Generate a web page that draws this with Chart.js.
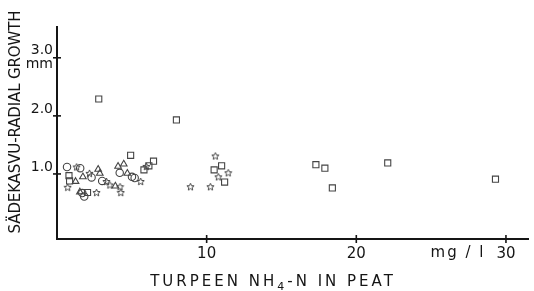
<!DOCTYPE html>
<html>
<head>
<meta charset="utf-8">
<script src="https://cdn.jsdelivr.net/npm/chart.js@4/dist/chart.umd.min.js"></script>
<style>
  body { margin: 0; background: #fff; }
  canvas { display: block; }
</style>
</head>
<body>
<canvas id="growthChart" width="534" height="291"></canvas>
<script>
// data: [NH4-N mg/l, radial growth mm]
var squares = [[2.79, 2.29], [7.98, 1.93], [17.3, 1.16], [17.9, 1.10], [18.4, 0.76],
  [22.1, 1.19], [29.3, 0.91], [11.0, 1.14], [10.5, 1.07], [11.2, 0.86],
  [0.8, 0.97], [0.84, 0.88], [2.04, 0.68], [4.92, 1.32], [5.81, 1.07],
  [6.14, 1.14], [6.45, 1.22]];
var circles = [[0.67, 1.12], [1.55, 1.10], [2.31, 0.94], [3.02, 0.88], [1.82, 0.61],
  [1.69, 0.67], [4.19, 1.02], [5.01, 0.95], [5.19, 0.93]];
var triangles = [[1.24, 0.87], [1.73, 0.95], [2.75, 1.08], [2.86, 1.01], [1.53, 0.69],
  [3.9, 0.79], [4.08, 1.13], [4.46, 1.17], [4.7, 1.01]];
var stars = [[0.71, 0.77], [1.31, 1.12], [2.17, 1.01], [3.3, 0.87], [2.64, 0.68],
  [3.53, 0.81], [4.21, 0.78], [4.26, 0.68], [5.59, 0.87], [5.97, 1.13],
  [10.58, 1.31], [11.44, 1.02], [10.78, 0.95], [8.92, 0.78], [10.25, 0.78]];

var xTicks = [10, 20, 30];
var yTicks = [1, 2, 3];
var yTitle = 'SÄDEKASVU-RADIAL GROWTH';
var xTitleParts = ['TURPEEN NH', '4', '-N IN PEAT'];
var xUnit = 'mg / l';

var ink = '#151515';
var markColor = '#444';
var font = 'DejaVu Sans';

function toPoints(arr) {
  return arr.map(function(p) { return { x: p[0], y: p[1] }; });
}

// small outlined five point star used as point style
function makeStar() {
  var c = document.createElement('canvas');
  c.width = 9; c.height = 9;
  var g = c.getContext('2d');
  g.strokeStyle = markColor;
  g.lineWidth = 1;
  g.beginPath();
  for (var i = 0; i < 10; i++) {
    var r = i % 2 === 0 ? 3.8 : 1.7;
    var a = -Math.PI / 2 + i * Math.PI / 5;
    var px = 4.5 + r * Math.cos(a), py = 4.8 + r * Math.sin(a);
    if (i === 0) g.moveTo(px, py); else g.lineTo(px, py);
  }
  g.closePath();
  g.stroke();
  return c;
}

// letter spacing that makes text fill a given width
function fitText(ctx, text, width) {
  ctx.letterSpacing = '0px';
  var w = ctx.measureText(text).width;
  return (width - w) / Math.max(1, text.length - 1);
}

var axisDecor = {
  id: 'axisDecor',
  afterDraw: function(chart) {
    var ctx = chart.ctx;
    var xs = chart.scales.x, ys = chart.scales.y;
    var area = chart.chartArea;
    ctx.save();
    ctx.strokeStyle = ink;
    ctx.lineWidth = 1.6;
    // tick marks crossing the axes
    yTicks.forEach(function(v) {
      var py = ys.getPixelForValue(v);
      ctx.beginPath(); ctx.moveTo(area.left - 4, py); ctx.lineTo(area.left + 4, py); ctx.stroke();
    });
    xTicks.forEach(function(v) {
      var px = xs.getPixelForValue(v);
      ctx.beginPath(); ctx.moveTo(px, area.bottom - 4); ctx.lineTo(px, area.bottom + 4); ctx.stroke();
    });

    ctx.fillStyle = ink;
    // unit next to the last x tick
    ctx.font = '15px "' + font + '"';
    ctx.textAlign = 'center';
    ctx.textBaseline = 'middle';
    ctx.letterSpacing = '2px';
    ctx.fillText(xUnit, xs.getPixelForValue(26.8), 253);

    // y title, rotated
    ctx.save();
    ctx.translate(16, 122);
    ctx.rotate(-Math.PI / 2);
    ctx.font = '15px "' + font + '"';
    ctx.letterSpacing = fitText(ctx, yTitle, 223) + 'px';
    ctx.textAlign = 'center';
    ctx.fillText(yTitle, 0, 0);
    ctx.restore();

    // x title with subscript
    ctx.textAlign = 'left';
    ctx.font = '15px "' + font + '"';
    ctx.letterSpacing = '3px';
    var w0 = ctx.measureText(xTitleParts[0]).width;
    var w2 = ctx.measureText(xTitleParts[2]).width;
    ctx.font = '11px "' + font + '"';
    var w1 = ctx.measureText(xTitleParts[1]).width;
    var sx = 273 - (w0 + w1 + w2) / 2;
    ctx.font = '15px "' + font + '"';
    ctx.fillText(xTitleParts[0], sx, 282);
    ctx.font = '11px "' + font + '"';
    ctx.fillText(xTitleParts[1], sx + w0, 287);
    ctx.font = '15px "' + font + '"';
    ctx.fillText(xTitleParts[2], sx + w0 + w1, 282);
    ctx.restore();
  }
};

var ds = function(label, data, style, radius) {
  return {
    label: label,
    data: toPoints(data),
    pointStyle: style,
    pointRadius: radius,
    pointHoverRadius: radius,
    borderColor: markColor,
    backgroundColor: 'rgba(255,255,255,0)',
    borderWidth: 1.1
  };
};

var ctx = document.getElementById('growthChart').getContext('2d');
var chart = new Chart(ctx, {
  type: 'scatter',
  data: {
    datasets: [
      ds('squares', squares, 'rect', 4.3),
      ds('circles', circles, 'circle', 3.7),
      ds('triangles', triangles, 'triangle', 3.8),
      ds('stars', stars, makeStar(), 4.5)
    ]
  },
  options: {
    responsive: false,
    animation: false,
    layout: { padding: { top: 27, right: 3, left: 0, bottom: 0 } },
    plugins: { legend: { display: false }, tooltip: { enabled: false } },
    scales: {
      x: {
        type: 'linear',
        min: 0,
        max: 31.5,
        grid: { display: false, drawTicks: false, tickLength: 0 },
        border: { display: true, color: ink, width: 2 },
        afterBuildTicks: function(scale) {
          scale.ticks = xTicks.map(function(v) { return { value: v }; });
        },
        afterFit: function(scale) { scale.height = 52; },
        ticks: {
          autoSkip: false,
          maxRotation: 0,
          padding: 6,
          color: ink,
          font: { family: font, size: 15 },
          callback: function(v) { return String(v); }
        }
      },
      y: {
        type: 'linear',
        min: -0.12,
        max: 3.53,
        grid: { display: false, drawTicks: false, tickLength: 0 },
        border: { display: true, color: ink, width: 2 },
        afterBuildTicks: function(scale) {
          scale.ticks = yTicks.map(function(v) { return { value: v }; });
        },
        afterFit: function(scale) { scale.width = 57; },
        ticks: {
          autoSkip: false,
          padding: 4,
          color: ink,
          font: { family: font, size: 14, lineHeight: 1.0 },
          callback: function(v) {
            return v === 3 ? ['3.0', 'mm'] : [v.toFixed(1), ''];
          }
        }
      }
    }
  },
  plugins: [axisDecor]
});
</script>
</body>
</html>
